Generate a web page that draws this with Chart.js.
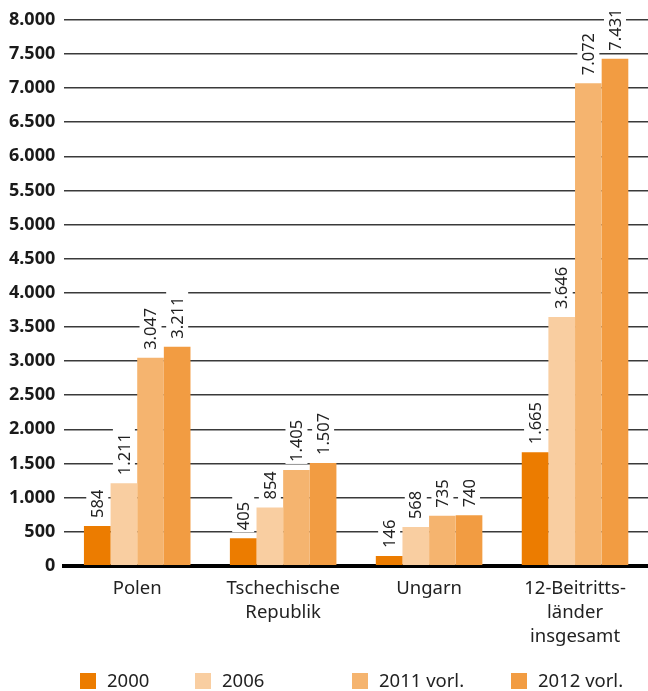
<!DOCTYPE html>
<html><head><meta charset="utf-8">
<script src="https://cdn.jsdelivr.net/npm/chart.js@4.4.1/dist/chart.umd.min.js"></script>
<style>html,body{margin:0;padding:0;background:#fff}#wrap{width:648px;height:691px;position:relative}</style>
</head><body><div id="wrap"><canvas id="c"></canvas></div>
<script>
const categories = ['Polen', ['Tschechische','Republik'], 'Ungarn', ['12-Beitritts-','länder','insgesamt']];
const seriesNames = ['2000', '2006', '2011 vorl.', '2012 vorl.'];
const values2000 = [584, 405, 146, 1665];
const values2006 = [1211, 854, 568, 3646];
const values2011 = [3047, 1405, 735, 7072];
const values2012 = [3211, 1507, 740, 7431];
const seriesColors = ['#ec7c00', '#f9cea1', '#f5b46f', '#f29c42'];
const yMin = 0, yMax = 8000, yStep = 500;

const fmt = v => String(v).replace(/\B(?=(\d{3})+(?!\d))/g, '.');
const FONT = '"Noto Sans", "Open Sans", sans-serif';

const labelPlugin = {
  id: 'barLabels',
  afterDatasetsDraw(chart) {
    const ctx = chart.ctx;
    ctx.save();
    ctx.font = '16.5px ' + FONT;
    chart.data.datasets.forEach((ds, di) => {
      const meta = chart.getDatasetMeta(di);
      meta.data.forEach((bar, i) => {
        const txt = fmt(ds.data[i]);
        const w = ctx.measureText(txt).width;
        const x = bar.x, yb = bar.y - 8;
        ctx.fillStyle = '#fff';
        ctx.fillRect(x - 11, yb - w - 6, 22, w + 8);
        ctx.save();
        ctx.translate(x, yb);
        ctx.rotate(-Math.PI / 2);
        ctx.fillStyle = '#222';
        ctx.textAlign = 'left';
        ctx.textBaseline = 'middle';
        ctx.fillText(txt, 0, 1);
        ctx.restore();
      });
    });
    ctx.restore();
  }
};

const legendPlugin = {
  id: 'customLegend',
  afterDraw(chart) {
    const ctx = chart.ctx;
    const xs = [80, 195, 352, 511];
    const y = chart.height - 10;
    ctx.save();
    ctx.font = '18.5px ' + FONT;
    ctx.textBaseline = 'middle';
    ctx.textAlign = 'left';
    chart.data.datasets.forEach((ds, i) => {
      ctx.fillStyle = ds.backgroundColor;
      ctx.fillRect(xs[i], y - 8, 16, 16);
      ctx.fillStyle = '#222';
      ctx.fillText(ds.label, xs[i] + 27, y + 1);
    });
    ctx.restore();
  }
};

const seriesValues = [values2000, values2006, values2011, values2012];
new Chart(document.getElementById('c'), {
  type: 'bar',
  data: {
    labels: categories,
    datasets: seriesNames.map((n, i) => ({
      label: n, data: seriesValues[i], backgroundColor: seriesColors[i],
      barPercentage: 1.0, categoryPercentage: 0.73, borderWidth: 0
    }))
  },
  options: {
    responsive: true, maintainAspectRatio: false, animation: false,
    layout: { padding: { top: 2, right: 0, bottom: 39, left: 0 } },
    plugins: { legend: { display: false }, tooltip: { enabled: false } },
    scales: {
      x: {
        grid: { display: false },
        border: { display: true, color: '#000', width: 4 },
        ticks: { color: '#222', font: { family: FONT, size: 18.5, lineHeight: 1.3 }, padding: 3, maxRotation: 0, autoSkip: false }
      },
      y: {
        min: yMin, max: yMax,
        border: { display: false },
        grid: { color: '#3a3a3a', lineWidth: 1.5, drawTicks: false },
        ticks: { stepSize: yStep, color: '#1a1a1a', padding: 9, font: { family: FONT, size: 18, weight: 'bold' }, callback: v => fmt(v) }
      }
    }
  },
  plugins: [labelPlugin, legendPlugin]
});
</script></body></html>
